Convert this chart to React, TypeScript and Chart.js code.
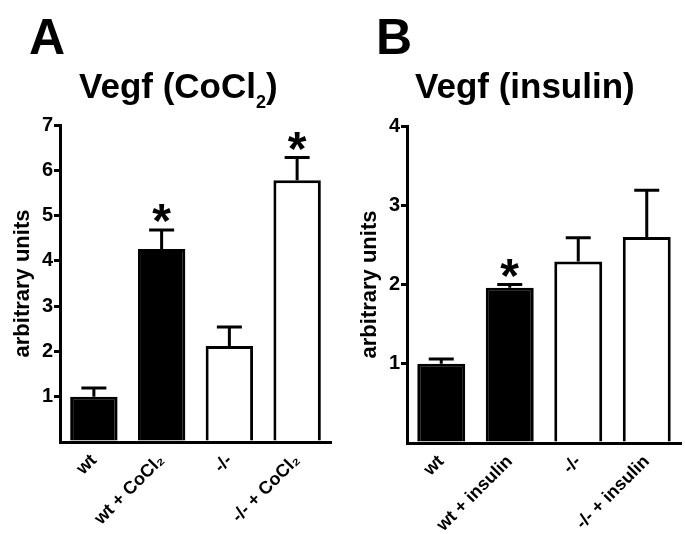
import React, { useEffect, useRef } from "react";
import { Chart, registerables } from "chart.js";

Chart.register(...registerables);

// ---------- data ----------
const categoriesA = ["wt", "wt + CoCl₂", "-/-", "-/- + CoCl₂"];
const valuesA = [1.0, 4.26, 2.12, 5.78];
const errorsA = [0.19, 0.42, 0.42, 0.5];
const significantA = [false, true, false, true];
const yTicksA = [0, 1, 2, 3, 4, 5, 6, 7];

const categoriesB = ["wt", "wt + insulin", "-/-", "-/- + insulin"];
const valuesB = [1.0, 1.96, 2.29, 2.6];
const errorsB = [0.06, 0.04, 0.3, 0.59];
const significantB = [false, true, false, false];
const yTicksB = [0, 1, 2, 3, 4];

const fillColors = ["#000000", "#000000", "#ffffff", "#ffffff"];

const FONT = "'Liberation Sans', Arial, Helvetica, sans-serif";

const errorBarPlugin = {
  id: "errorBars",
  afterDatasetsDraw(chart: any) {
    const opts = chart.options.plugins.errorBars;
    if (!opts) return;
    const { ctx } = chart;
    const yScale = chart.scales.y;
    const meta = chart.getDatasetMeta(0);
    const data = chart.data.datasets[0].data as number[];
    ctx.save();
    ctx.strokeStyle = "#000";
    ctx.fillStyle = "#000";
    ctx.lineWidth = 3;
    ctx.lineCap = "butt";
    meta.data.forEach((bar: any, i: number) => {
      const v = data[i];
      const e = opts.errors[i];
      const x = bar.x;
      const yBar = yScale.getPixelForValue(v);
      const yTop = yScale.getPixelForValue(v + e);
      ctx.beginPath();
      ctx.moveTo(x, yBar);
      ctx.lineTo(x, yTop);
      ctx.moveTo(x - 12.5, yTop);
      ctx.lineTo(x + 12.5, yTop);
      ctx.stroke();
      if (opts.significant[i]) {
        ctx.font = `bold 48px ${FONT}`;
        ctx.textAlign = "left";
        ctx.textBaseline = "alphabetic";
        const m = ctx.measureText("*");
        const w = m.actualBoundingBoxRight + m.actualBoundingBoxLeft;
        const tx = x - w / 2 + m.actualBoundingBoxLeft;
        const ty = yTop - 8 - m.actualBoundingBoxDescent;
        ctx.fillText("*", tx, ty);
      }
    });
    ctx.restore();
  },
};

function makeConfig(
  labels: string[],
  values: number[],
  errors: number[],
  significant: boolean[],
  ticks: number[],
  padding: { top: number; right: number },
  xHeight: number
): any {
  const yMax = ticks[ticks.length - 1];
  return {
    type: "bar",
    data: {
      labels,
      datasets: [
        {
          data: values,
          backgroundColor: fillColors,
          borderColor: "#000",
          borderWidth: 3,
          borderSkipped: "bottom",
          barPercentage: 0.7,
          categoryPercentage: 1.0,
        },
      ],
    },
    options: {
      responsive: false,
      animation: false,
      devicePixelRatio: 1,
      layout: { padding: { top: padding.top, right: padding.right, left: 0, bottom: 0 } },
      plugins: {
        legend: { display: false },
        tooltip: { enabled: false },
        title: { display: false },
        errorBars: { errors, significant },
      },
      scales: {
        x: {
          grid: { display: false, drawTicks: false },
          border: { display: true, color: "#000", width: 3 },
          ticks: {
            color: "#000",
            font: { family: FONT, weight: "bold", size: 18 },
            minRotation: 45,
            maxRotation: 45,
            padding: 8,
            autoSkip: false,
          },
          afterFit: (scale: any) => {
            scale.height = xHeight;
          },
        },
        y: {
          min: 0,
          max: yMax,
          afterBuildTicks: (scale: any) => {
            scale.ticks = ticks.map((v) => ({ value: v }));
          },
          grid: {
            drawOnChartArea: false,
            drawTicks: true,
            tickLength: 6,
            lineWidth: 3,
            color: (c: any) => (c.tick && c.tick.value === 0 ? "rgba(0,0,0,0)" : "#000"),
          },
          border: { display: true, color: "#000", width: 3 },
          ticks: {
            color: "#000",
            padding: 1,
            font: { family: FONT, weight: "bold", size: 20 },
            callback: (v: any) => (v === 0 ? "" : String(v)),
          },
          title: {
            display: true,
            text: "arbitrary units",
            color: "#000",
            font: { family: FONT, weight: "bold", size: 22 },
            padding: { top: 10, bottom: 0 },
          },
          afterFit: (scale: any) => {
            scale.width = 60;
          },
        },
      },
    },
    plugins: [errorBarPlugin],
  };
}

function Panel(props: {
  left: number;
  width: number;
  labels: string[];
  values: number[];
  errors: number[];
  significant: boolean[];
  ticks: number[];
  padTop: number;
  padRight: number;
  xHeight: number;
}) {
  const ref = useRef<HTMLCanvasElement | null>(null);
  useEffect(() => {
    if (!ref.current) return;
    const chart = new Chart(
      ref.current,
      makeConfig(
        props.labels,
        props.values,
        props.errors,
        props.significant,
        props.ticks,
        { top: props.padTop, right: props.padRight },
        props.xHeight
      )
    );
    return () => chart.destroy();
  }, []);
  return (
    <canvas
      ref={ref}
      width={props.width}
      height={534}
      style={{ position: "absolute", left: props.left, top: 0, width: props.width, height: 534 }}
    />
  );
}

const textStyle: React.CSSProperties = {
  position: "absolute",
  fontFamily: FONT,
  fontWeight: "bold",
  color: "#000",
  whiteSpace: "nowrap",
  lineHeight: 1,
  margin: 0,
};

export default function App() {
  return (
    <div
      style={{
        position: "absolute",
        left: 0,
        top: 0,
        width: 685,
        height: 534,
        background: "#fff",
        overflow: "hidden",
      }}
    >
      <Panel
        left={0}
        width={340}
        labels={categoriesA}
        values={valuesA}
        errors={errorsA}
        significant={significantA}
        ticks={yTicksA}
        padTop={125}
        padRight={9}
        xHeight={92}
      />
      <Panel
        left={347}
        width={338}
        labels={categoriesB}
        values={valuesB}
        errors={errorsB}
        significant={significantB}
        ticks={yTicksB}
        padTop={126}
        padRight={4}
        xHeight={91}
      />
      <div style={{ ...textStyle, left: 29, top: 12, fontSize: 50 }}>A</div>
      <div style={{ ...textStyle, left: 79, top: 68, fontSize: 35 }}>
        Vegf (CoCl
        <span style={{ fontSize: 18, position: "relative", top: 10 }}>2</span>)
      </div>
      <div style={{ ...textStyle, left: 376, top: 12, fontSize: 50 }}>B</div>
      <div style={{ ...textStyle, left: 415, top: 68, fontSize: 35 }}>Vegf (insulin)</div>
    </div>
  );
}
